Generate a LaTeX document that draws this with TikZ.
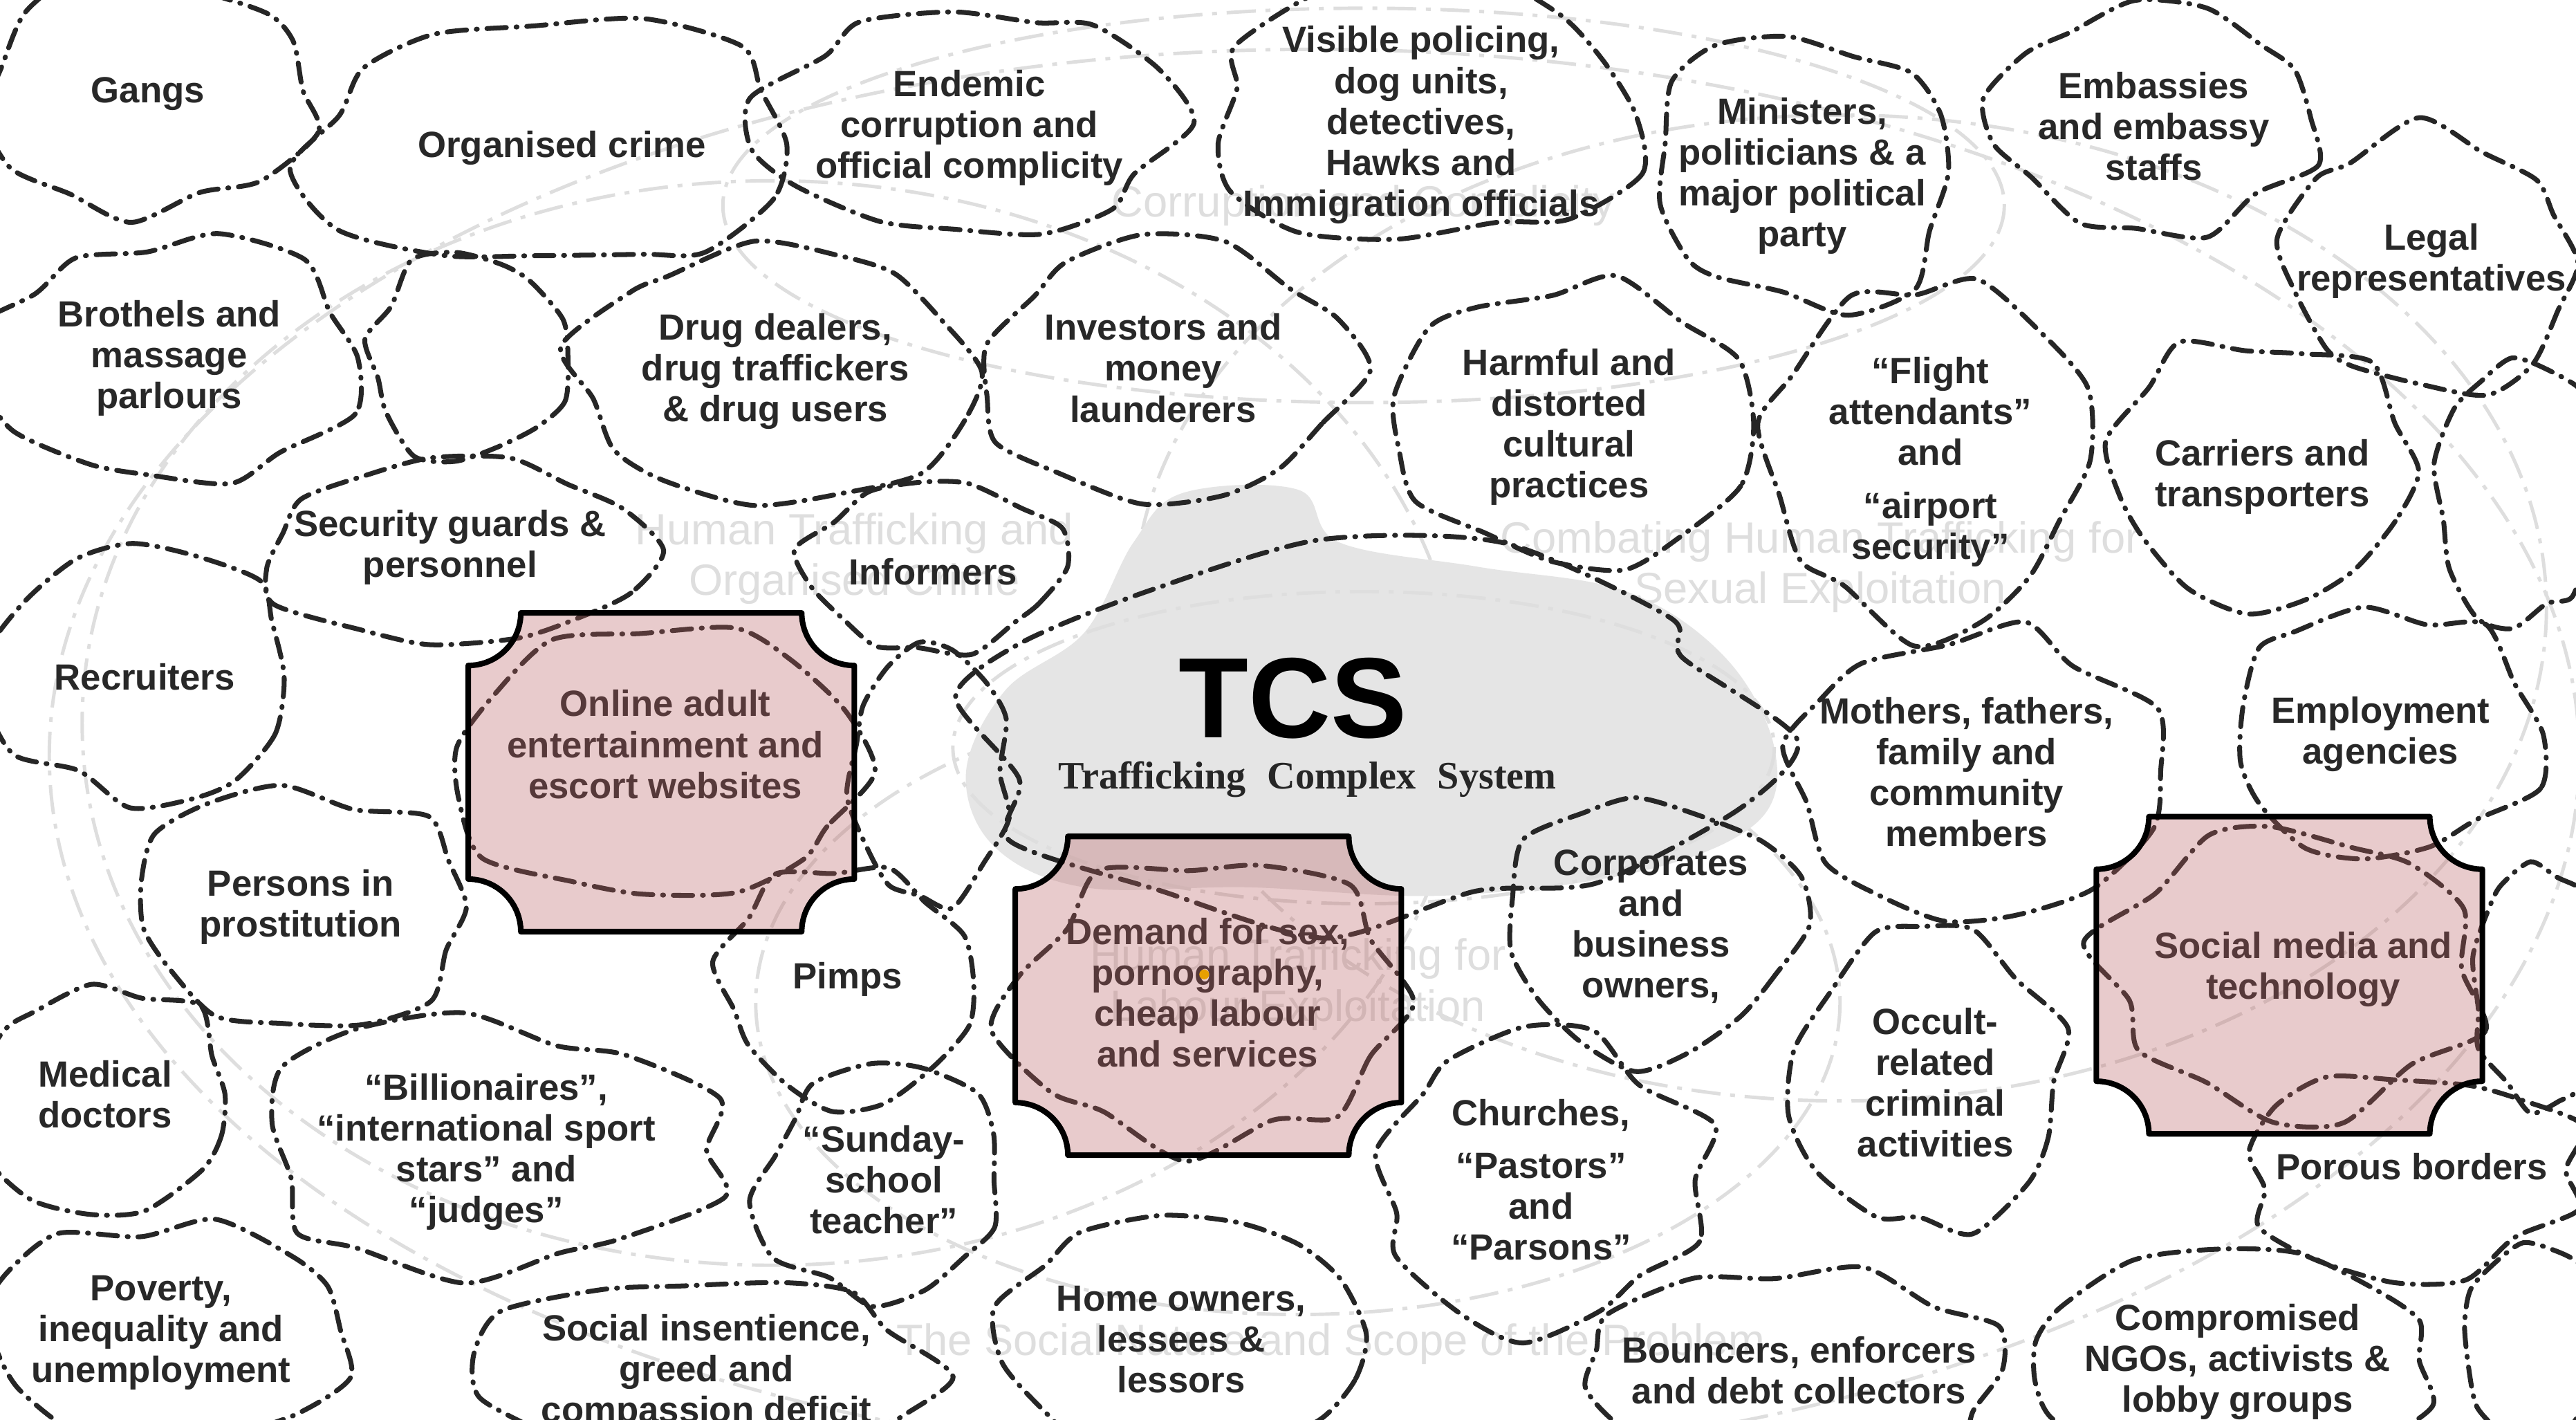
\documentclass[tikz,border=0pt]{standalone}
\usepackage{fontspec}
\setmainfont{Liberation Sans}
\newfontfamily\tcsserif{Liberation Serif}
\usetikzlibrary{positioning}

\definecolor{inktext}{RGB}{40,40,40}
\definecolor{boxred}{RGB}{186,95,97}
\definecolor{blobgrey}{RGB}{229,229,229}
\definecolor{faintgrey}{RGB}{222,222,222}
\definecolor{dotorange}{RGB}{232,160,0}

\tikzset{
	actor/.style={font=\fontsize{15}{16.8}\selectfont\bfseries, text=inktext, align=center, inner sep=0pt},
	ghost/.style={font=\fontsize{18}{21}\selectfont, text=faintgrey, align=center, inner sep=0pt},
	cellline/.style={draw=black!85, line width=2pt, line cap=round, dash pattern=on 8pt off 4pt on 0.4pt off 4pt},
	venn/.style={draw=faintgrey, line width=1.4pt, dash pattern=on 12pt off 4pt on 2pt off 4pt},
	plaque/.style={draw=black, line width=2.3pt, fill=boxred, fill opacity=0.32, line join=round},
}

% one irregular dash-dot cell round a label
\newcommand{\cellblob}[4]{%
	\draw[cellline] plot[smooth cycle, tension=0.45, domain=0:336, samples=15, variable=\ang]
		({#1+#3*cos(\ang)*(1+0.14*rand)}, {#2+#4*sin(\ang)*(1+0.14*rand)});}

% box with concave corners: x0 y0 x1 y1
\newcommand{\plaque}[4]{%
	\path[plaque] ({#1+32},#2) -- ({#3-32},#2)
		.. controls ({#3-32},{#2+17.7}) and ({#3-17.7},{#2+32}) .. (#3,{#2+32})
		-- (#3,{#4-32})
		.. controls ({#3-17.7},{#4-32}) and ({#3-32},{#4-17.7}) .. ({#3-32},#4)
		-- ({#1+32},#4)
		.. controls ({#1+32},{#4-17.7}) and ({#1+17.7},{#4-32}) .. (#1,{#4-32})
		-- (#1,{#2+32})
		.. controls ({#1+17.7},{#2+32}) and ({#1+32},{#2+17.7}) .. ({#1+32},#2) -- cycle;}

\begin{document}
\begin{tikzpicture}[x=0.023757cm, y=-0.023757cm]
	\pgfmathsetseed{12}
	\fill[white] (0,0) rectangle (1568,864);
	\clip (0,0) rectangle (1568,864);

	% faint background venn
	\draw[venn] (470,440) ellipse [x radius=420, y radius=330];
	\draw[venn] (1120,370) ellipse [x radius=430, y radius=300];
	\draw[venn] (830,125) ellipse [x radius=390, y radius=120];
	\draw[venn] (790,610) ellipse [x radius=330, y radius=190];
	\draw[venn] (800,460) ellipse [x radius=770, y radius=430];
	\fill[blobgrey] plot[smooth cycle, tension=0.6] coordinates {(588,470) (612,420) (660,385) (690,330) (720,300) (790,298) (815,330) (900,345) (990,360) (1050,400) (1080,455) (1070,500) (1000,530) (880,545) (760,540) (660,540) (605,515)};
	\draw[venn] (830,455) ellipse [x radius=250, y radius=95];

	\node[ghost] (ghostoc) at (520,340) {Human Trafficking and\\Organised Crime};
	\node[ghost] (ghostcc) at (830,125) {Corruption and Complicity};
	\node[ghost] (ghostse) at (1108,345) {Combating Human Trafficking for\\Sexual Exploitation};
	\node[ghost] (ghostle) at (790,599) {Human Trafficking for\\Labour Exploitation};
	\node[ghost] (ghostsp) at (810,818) {The Social Nature and Scope of the Problem};

	% cells
	\cellblob{90}{55}{100}{72}
	\cellblob{340}{88}{150}{78}
	\cellblob{592}{75}{122}{72}
	\cellblob{865}{70}{132}{78}
	\cellblob{1097}{105}{98}{85}
	\cellblob{1311}{72}{102}{68}
	\cellblob{1482}{160}{92}{78}
	\cellblob{103}{218}{112}{75}
	\cellblob{283}{218}{62}{62}
	\cellblob{472}{226}{122}{75}
	\cellblob{708}{225}{112}{76}
	\cellblob{955}{258}{102}{88}
	\cellblob{1175}{280}{98}{102}
	\cellblob{1377}{287}{92}{80}
	\cellblob{1535}{300}{50}{80}
	\cellblob{274}{335}{118}{58}
	\cellblob{568}{345}{78}{52}
	\cellblob{90}{412}{92}{76}
	\cellblob{405}{470}{125}{82}
	\cellblob{565}{470}{48}{78}
	\cellblob{830}{450}{245}{112}
	\cellblob{1197}{470}{112}{86}
	\cellblob{1449}{447}{97}{80}
	\cellblob{183}{552}{112}{70}
	\cellblob{516}{598}{78}{70}
	\cellblob{735}{610}{118}{86}
	\cellblob{1005}{563}{88}{80}
	\cellblob{1395}{590}{115}{86}
	\cellblob{1545}{600}{40}{75}
	\cellblob{1178}{658}{82}{92}
	\cellblob{64}{666}{82}{66}
	\cellblob{296}{700}{140}{76}
	\cellblob{538}{718}{76}{72}
	\cellblob{938}{718}{102}{90}
	\cellblob{1468}{712}{102}{62}
	\cellblob{98}{810}{112}{66}
	\cellblob{430}{838}{136}{62}
	\cellblob{719}{812}{112}{76}
	\cellblob{1095}{833}{132}{58}
	\cellblob{1362}{828}{126}{62}
	\cellblob{1540}{820}{40}{60}

	% actors
	\node[actor] (gangs) at (90,57) {Gangs};
	\node[actor] (orgcrime) at (342,90) {Organised crime};
	\node[actor] (endemic) at (590,78) {Endemic\\corruption and\\official complicity};
	\node[actor] (policing) at (865,76) {Visible policing,\\dog units,\\detectives,\\Hawks and\\Immigration officials};
	\node[actor] (ministers) at (1097,107) {Ministers,\\politicians \& a\\major political\\party};
	\node[actor] (embassies) at (1311,77) {Embassies\\and embassy\\staffs};
	\node[actor] (legal) at (1480,159) {Legal\\representatives};
	\node[actor] (brothels) at (103,218) {Brothels and\\massage\\parlours};
	\node[actor] (drugs) at (472,226) {Drug dealers,\\drug traffickers\\\& drug users};
	\node[actor] (investors) at (708,224) {Investors and\\money\\launderers};
	\node[actor] (harmful) at (955,260) {Harmful and\\distorted\\cultural\\practices};
	\node[actor] (flight) at (1175,281) {“Flight\\attendants”\\and\\[5pt]“airport\\security”};
	\node[actor] (carriers) at (1377,290) {Carriers and\\transporters};
	\node[actor] (security) at (274,333) {Security guards \&\\personnel};
	\node[actor] (informers) at (568,348) {Informers};
	\node[actor] (recruiters) at (88,412) {Recruiters};
	\node[actor] (mothers) at (1197,470) {Mothers, fathers,\\family and\\community\\members};
	\node[actor] (employment) at (1449,447) {Employment\\agencies};
	\node[actor] (persons) at (183,552) {Persons in\\prostitution};
	\node[actor] (corporates) at (1005,564) {Corporates\\and\\business\\owners,};
	\node[actor] (pimps) at (516,596) {Pimps};
	\node[actor] (occult) at (1178,659) {Occult-\\related\\criminal\\activities};
	\node[actor] (medical) at (64,666) {Medical\\doctors};
	\node[actor] (billionaires) at (296,701) {“Billionaires”,\\“international sport\\stars” and\\“judges”};
	\node[actor] (sunday) at (538,718) {“Sunday-\\school\\teacher”};
	\node[actor] (churches) at (938,718) {Churches,\\[5pt]“Pastors”\\and\\“Parsons”};
	\node[actor] (porous) at (1468,710) {Porous borders};
	\node[actor] (poverty) at (98,811) {Poverty,\\inequality and\\unemployment};
	\node[actor] (insentience) at (430,835) {Social insentience,\\greed and\\compassion deficit};
	\node[actor] (homeowners) at (719,815) {Home owners,\\lessees \&\\lessors};
	\node[actor] (bouncers) at (1095,834) {Bouncers, enforcers\\and debt collectors};
	\node[actor] (compromised) at (1362,829) {Compromised\\NGOs, activists \&\\lobby groups};

	% centre
	\node[inner sep=0pt, font=\fontsize{47}{47}\selectfont\bfseries] (tcs) at (787,425) {TCS};
	\node[inner sep=0pt, below=9pt of tcs, xshift=6pt, text=black!85, font=\tcsserif\bfseries\fontsize{16}{18}\selectfont] (tcssub) {Trafficking\hspace{0.55em}Complex\hspace{0.55em}System};

	% highlighted boxes
	\node[actor] (online) at (405,453) {Online adult\\entertainment and\\escort websites};
	\node[actor] (demand) at (735,604) {Demand for sex,\\pornography,\\cheap labour\\and services};
	\node[actor] (socialmedia) at (1402,590) {Social media and\\technology};
	\plaque{285}{373}{520}{567}
	\plaque{618}{509}{853}{703}
	\plaque{1276}{497}{1511}{690}
	\fill[dotorange] (733,593) circle [radius=3];
\end{tikzpicture}
\end{document}
